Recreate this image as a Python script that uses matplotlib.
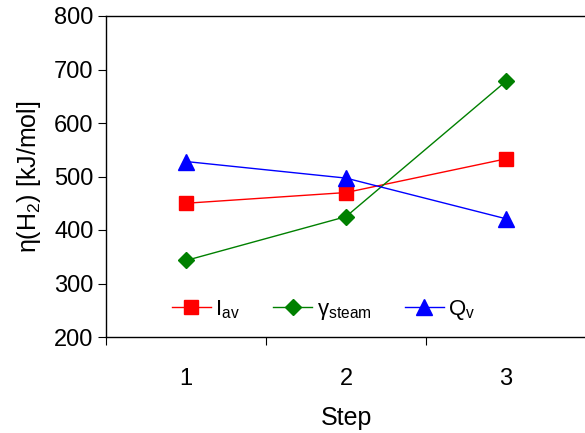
import matplotlib
matplotlib.use("Agg")
import matplotlib.pyplot as plt
from matplotlib.ticker import FixedLocator, NullFormatter

steps = [1, 2, 3]
i_av = [450, 470, 533]
gamma_steam = [343, 425, 678]
q_v = [528, 497, 421]

plt.rcParams['font.family'] = ['Liberation Sans', 'DejaVu Sans']
plt.rcParams['mathtext.fontset'] = 'custom'
plt.rcParams['mathtext.rm'] = 'Liberation Sans'
plt.rcParams['mathtext.it'] = 'Liberation Sans:italic'

fig = plt.figure(figsize=(5.85, 4.33), dpi=100)
ax = fig.add_axes([106 / 585, 96 / 433, 480 / 585, 321 / 433])

ax.plot(steps, i_av, color='#ff0000', marker='s', markersize=9.5, lw=1,
        label=r'$\mathregular{I_{av}}$')
ax.plot(steps, gamma_steam, color='#008000', marker='D', markersize=8.5, lw=1,
        label=r'$\mathregular{\gamma_{steam}}$')
ax.plot(steps, q_v, color='#0000ff', marker='^', markersize=11, lw=1,
        label=r'$\mathregular{Q_v}$')

ax.set_xlim(0.5, 3.5)
ax.set_ylim(200, 800)
ax.set_yticks(range(200, 801, 100))
ax.xaxis.set_major_locator(FixedLocator([0.5, 1.5, 2.5, 3.5]))
ax.xaxis.set_major_formatter(NullFormatter())
ax.xaxis.set_minor_locator(FixedLocator(steps))
ax.set_xticklabels([str(s) for s in steps], minor=True)
ax.tick_params(axis='x', which='minor', length=0, pad=22, labelsize=17)
ax.tick_params(axis='x', which='major', length=6, direction='out')
ax.tick_params(axis='y', length=6, direction='out', labelsize=17, pad=3)

ax.spines['right'].set_visible(False)
for s in ['left', 'bottom', 'top']:
    ax.spines[s].set_linewidth(1)

ax.set_xlabel('Step', fontsize=18, labelpad=12)
ax.set_ylabel(r'$\mathregular{\eta(H_2)}$ [kJ/mol]', fontsize=18, labelpad=8)

ax.legend(loc='center left', bbox_to_anchor=(0.1375, 0.084), ncol=3, frameon=False,
          fontsize=16, handlelength=1.75, handletextpad=0.2, columnspacing=1.5,
          borderaxespad=0, borderpad=0)

fig.savefig('out.png', dpi=100)
